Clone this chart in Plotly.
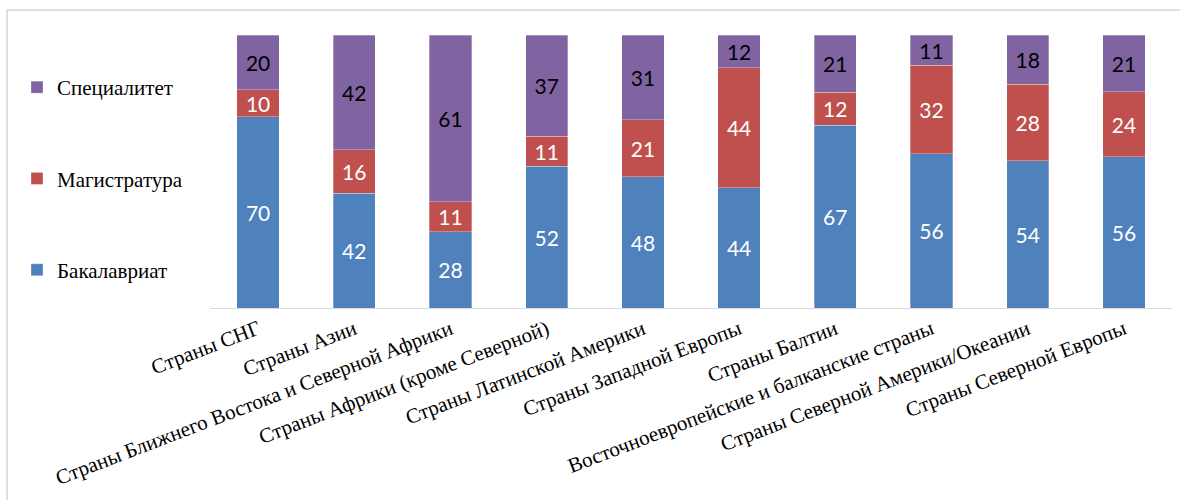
import plotly.graph_objects as go

categories = [
    "Страны СНГ",
    "Страны Азии",
    "Страны Ближнего Востока и Северной Африки",
    "Страны Африки (кроме Северной)",
    "Страны Латинской Америки",
    "Страны Западной Европы",
    "Страны Балтии",
    "Восточноевропейские и балканские страны",
    "Страны Северной Америки/Океании",
    "Страны Северной Европы",
]
bachelor = [70, 42, 28, 52, 48, 44, 67, 56, 54, 56]
master = [10, 16, 11, 11, 21, 44, 12, 32, 28, 24]
specialist = [20, 42, 61, 37, 31, 12, 21, 11, 18, 21]

series = [
    ("Бакалавриат", bachelor, "#4F81BD", "white", 3),
    ("Магистратура", master, "#C0504D", "white", 2),
    ("Специалитет", specialist, "#8064A2", "black", 1),
]

SERIF = "Liberation Serif, Times New Roman, DejaVu Serif, serif"

W, H = 1180, 500
ML, MR, MT, MB = 210, 8, 35, 192
PW, PH = W - ML - MR, H - MT - MB

fig = go.Figure()
for name, vals, color, tcolor, rank in series:
    fig.add_trace(go.Bar(
        x=categories, y=vals, name=name,
        marker=dict(color=color, line=dict(width=0.6, color="rgba(255,255,255,0.5)")),
        text=[str(v) for v in vals],
        textposition="inside", insidetextanchor="middle", textangle=0,
        textfont=dict(family="Lato", size=21, color=tcolor),
        legendgroup=name, legendrank=rank,
        hoverinfo="skip",
    ))

def px_x(p):
    return (p - ML) / PW

def px_y(p):
    return (H - MB - p) / PH

fig.update_layout(
    width=W, height=H,
    barmode="stack", barnorm="percent", bargap=0.56,
    margin=dict(l=ML, r=MR, t=MT, b=MB, autoexpand=False),
    paper_bgcolor="white", plot_bgcolor="white",
    font=dict(family=SERIF, size=20, color="black"),
    uniformtext=dict(minsize=21, mode="show"),
    showlegend=True,
    legend=dict(
        traceorder="grouped", tracegroupgap=61,
        xref="container", yref="container",
        x=17 / W, y=1 - 67 / H, xanchor="left", yanchor="top",
        font=dict(family=SERIF, size=21, color="black"),
        bgcolor="rgba(0,0,0,0)",
    ),
    xaxis=dict(
        tickangle=-21, showline=True, linecolor="#D9D9D9", linewidth=1,
        ticks="", showgrid=False, range=[-0.5, 9.5],
        tickfont=dict(family=SERIF, size=21, color="black"),
    ),
    yaxis=dict(visible=False, range=[0, 100]),
    shapes=[
        dict(type="line", xref="paper", yref="paper",
             x0=px_x(7), x1=px_x(W), y0=px_y(10), y1=px_y(10),
             line=dict(color="#BFBFBF", width=1)),
        dict(type="line", xref="paper", yref="paper",
             x0=px_x(7), x1=px_x(7), y0=px_y(10), y1=px_y(H),
             line=dict(color="#BFBFBF", width=1)),
    ],
)

fig.write_html("out.html", config={"displayModeBar": False},
               post_script="document.body.style.margin='0';")
